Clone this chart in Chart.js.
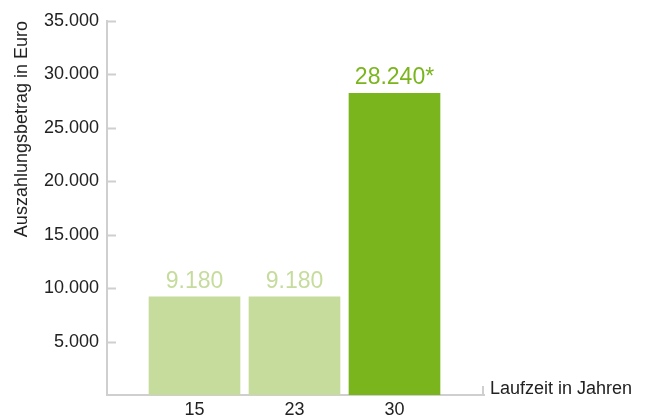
<!DOCTYPE html>
<html>
<head>
<meta charset="utf-8">
<script src="https://cdn.jsdelivr.net/npm/chart.js@4/dist/chart.umd.min.js"></script>
<style>
  html, body { margin: 0; padding: 0; background: #fff; }
  #wrap { width: 646px; height: 417px; }
</style>
</head>
<body>
<div id="wrap"><canvas id="chart" width="646" height="417"></canvas></div>
<script>
'use strict';

// Laufzeit (years) and payout in Euro
const categories = ['15', '23', '30'];
const payouts = [9180, 9180, 28240];
const labelSuffix = ['', '', '*'];
const barColors = ['#c6dc9c', '#c6dc9c', '#7ab51e'];
const labelColors = ['#c6dc9c', '#c6dc9c', '#7ab51e'];
const yTicks = [5000, 10000, 15000, 20000, 25000, 30000, 35000];

const FONT = '"Liberation Sans", Arial, Helvetica, sans-serif';
const AXIS_COLOR = '#cfcfcf';

function fmt(v) {
    return String(v).replace(/\B(?=(\d{3})+(?!\d))/g, '.');
}

// small tick stubs inside the plot, end stub on the x axis, value labels, x title
const decorations = {
    id: 'decorations',
    afterDatasetsDraw: function (chart) {
        const ctx = chart.ctx;
        const area = chart.chartArea;
        const y = chart.scales.y;

        ctx.save();
        ctx.strokeStyle = AXIS_COLOR;
        ctx.lineWidth = 2;
        yTicks.forEach(function (t) {
            const py = Math.round(y.getPixelForValue(t)) + 0.5;
            ctx.beginPath();
            ctx.moveTo(area.left, py);
            ctx.lineTo(area.left + 9, py);
            ctx.stroke();
        });
        ctx.beginPath();
        ctx.moveTo(area.right - 1, area.bottom);
        ctx.lineTo(area.right - 1, area.bottom - 9);
        ctx.stroke();

        ctx.font = '23px ' + FONT;
        ctx.textAlign = 'center';
        ctx.textBaseline = 'alphabetic';
        chart.getDatasetMeta(0).data.forEach(function (bar, i) {
            ctx.fillStyle = labelColors[i];
            ctx.fillText(fmt(payouts[i]) + labelSuffix[i], bar.x, bar.y - 9);
        });

        ctx.font = '18px ' + FONT;
        ctx.fillStyle = '#222';
        ctx.textAlign = 'left';
        ctx.fillText('Laufzeit in Jahren', area.right + 6, area.bottom - 1);
        ctx.restore();
    }
};

new Chart(document.getElementById('chart'), {
    type: 'bar',
    data: {
        datasets: [{
            data: payouts.map(function (v, i) { return {x: i, y: v}; }),
            backgroundColor: barColors,
            borderWidth: 0,
            barThickness: 91
        }]
    },
    options: {
        responsive: false,
        animation: false,
        events: [],
        layout: {padding: {top: 21, right: 162, left: 0, bottom: 0}},
        plugins: {legend: {display: false}, tooltip: {enabled: false}},
        scales: {
            x: {
                type: 'linear',
                offset: false,
                min: -0.875,
                max: 2.895,
                afterBuildTicks: function (scale) {
                    scale.ticks = categories.map(function (c, i) { return {value: i}; });
                },
                afterFit: function (scale) { scale.height = 22; },
                grid: {display: false, drawTicks: false, offset: false},
                border: {display: true, color: AXIS_COLOR, width: 2},
                ticks: {
                    autoSkip: false,
                    maxRotation: 0,
                    padding: 4,
                    color: '#222',
                    font: {family: FONT, size: 18},
                    callback: function (v) { return categories[v]; }
                }
            },
            y: {
                min: 0,
                max: 35000,
                afterBuildTicks: function (scale) {
                    scale.ticks = yTicks.map(function (v) { return {value: v}; });
                },
                afterFit: function (scale) { scale.width = 107; },
                grid: {display: false, drawTicks: false},
                border: {display: true, color: AXIS_COLOR, width: 2},
                ticks: {
                    padding: 8,
                    color: '#222',
                    font: {family: FONT, size: 18},
                    callback: function (v) { return fmt(v); }
                },
                title: {
                    display: true,
                    text: 'Auszahlungsbetrag in Euro',
                    align: 'end',
                    color: '#222',
                    font: {family: FONT, size: 18},
                    padding: {top: 11, bottom: 0}
                }
            }
        }
    },
    plugins: [decorations]
});
</script>
</body>
</html>
